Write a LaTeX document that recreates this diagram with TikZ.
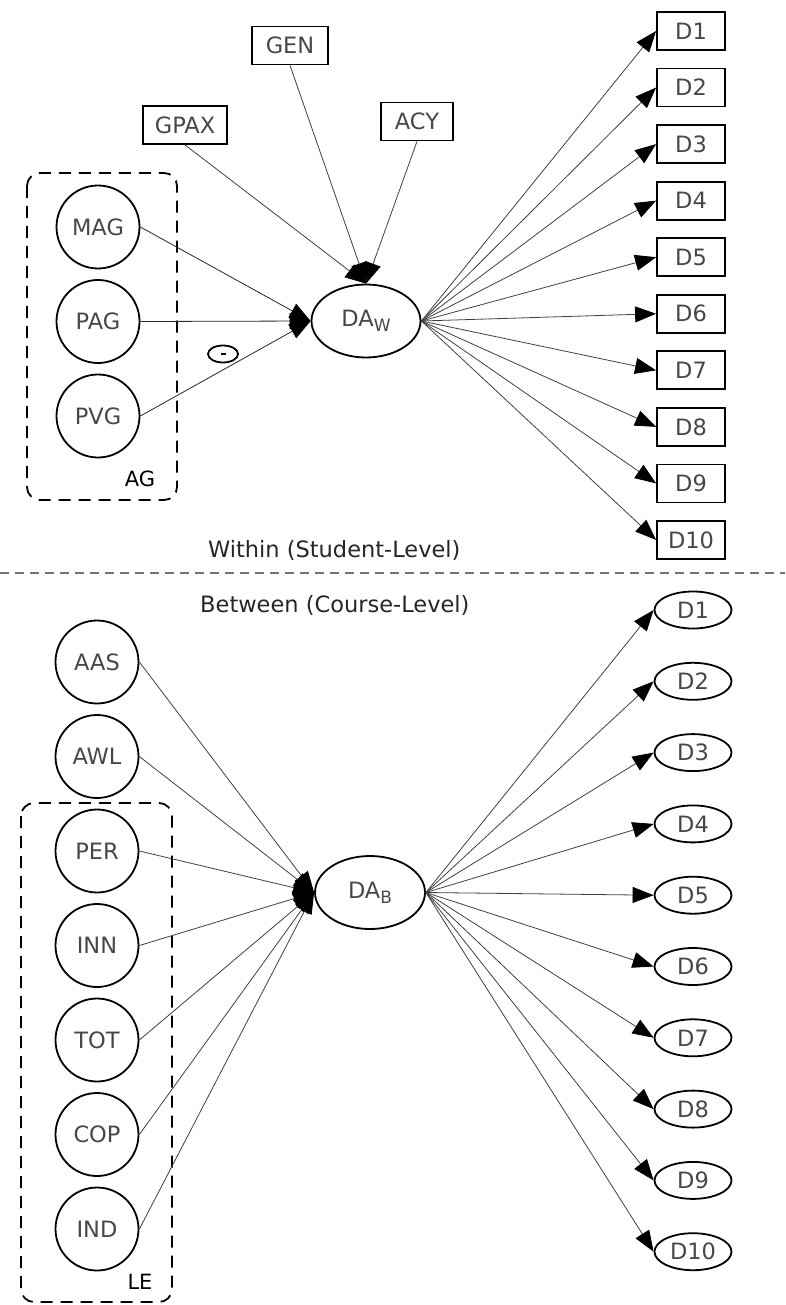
\documentclass[tikz,border=0pt]{standalone}
\usepackage{fontspec}
\setmainfont{DejaVu Sans}
\usetikzlibrary{arrows.meta,shapes.geometric}

\begin{document}
\begin{tikzpicture}[x=1pt,y=-1pt,
  lbl/.style={text=black!72,font=\fontsize{22.5}{22.5}\selectfont},
  latent/.style={lbl,circle,draw,line width=1.8pt,minimum size=83pt,inner sep=0pt},
  obsbox/.style={lbl,rectangle,draw,line width=1.8pt,minimum height=38pt,inner sep=0pt},
  indell/.style={lbl,ellipse,draw,line width=1.8pt,minimum width=77pt,minimum height=37pt,inner sep=0pt},
  factor/.style={lbl,ellipse,draw,line width=1.8pt,minimum width=110pt,minimum height=73pt,inner sep=0pt},
  group/.style={draw,line width=1.8pt,dash pattern=on 12pt off 8pt,rounded corners=13pt},
  grouplabel/.style={text=black,font=\fontsize{21}{21}\selectfont},
  levellabel/.style={text=black!85,font=\fontsize{22.5}{22.5}\selectfont},
  conn/.style={draw=black!75,line width=0.8pt,-{Triangle[color=black,length=21pt,width=16pt]}}
]
\useasboundingbox (0,0) rectangle (785,1305);

% ---------- within (student) level ----------
\node[obsbox,minimum width=76pt] (gen)  at (290,45.5) {GEN};
\node[obsbox,minimum width=84pt] (gpax) at (185,125)  {GPAX};
\node[obsbox,minimum width=72pt] (acy)  at (417,121.5) {ACY};

\draw[group] (27,173) rectangle (177,500);
\node[grouplabel] (ag) at (140,479) {AG};
\node[latent] (mag) at (98,227)   {MAG};
\node[latent] (pag) at (98,321.5) {PAG};
\node[latent] (pvg) at (98,416)   {PVG};

\node[factor,minimum width=109pt] (daw) at (366,321)
  {DA\raisebox{-5pt}{\fontsize{17}{17}\selectfont W}};

% negative-sign marker on the PVG path
\node[ellipse,draw,line width=1.8pt,minimum width=30pt,minimum height=17pt,inner sep=0pt]
  (neg) at (223,354) {};
\draw[line width=1.6pt] ([xshift=-2.5pt]neg.center) -- ([xshift=2.5pt]neg.center);

\foreach \s in {gpax,gen,acy}
  \draw[conn] (\s.south) -- (daw.north);
\foreach \s in {mag,pag,pvg}
  \draw[conn,draw=black!85] (\s.east) -- (daw.west);

\foreach \i in {1,...,10}{
  \node[obsbox,minimum width=68pt] (dw\i) at (691,{31+56.55*(\i-1)}) {D\i};
  \draw[conn] (daw.east) -- (dw\i.west);
}

% ---------- level divider ----------
\node[levellabel,anchor=east] (within) at (464,550) {Within (Student-Level)};
\coordinate (divl) at (0,573);
\coordinate (divr) at (785,573);
\draw[black!55,line width=1.3pt,dash pattern=on 9pt off 6pt] (divl) -- (divr);
\node[levellabel,anchor=east] (between) at (473,605) {Between (Course-Level)};

% ---------- between (course) level ----------
\node[latent] (aas) at (97,662)    {AAS};
\node[latent] (awl) at (97,756.5)  {AWL};
\draw[group] (21,803) rectangle (172,1302);
\node[grouplabel] (le) at (140,1282) {LE};
\node[latent] (per) at (97,851)    {PER};
\node[latent] (inn) at (97,945.5)  {INN};
\node[latent] (tot) at (97,1040)   {TOT};
\node[latent] (cop) at (97,1134.5) {COP};
\node[latent] (ind) at (97,1229)   {IND};

\node[factor] (dab) at (370,892.5)
  {DA\raisebox{-5pt}{\fontsize{17}{17}\selectfont B}};

\foreach \s in {aas,awl,per,inn,tot,cop,ind}
  \draw[conn] (\s.east) -- (dab.west);

\foreach \i in {1,...,10}{
  \node[indell] (db\i) at (693,{610+71.3*(\i-1)}) {D\i};
  \draw[conn] (dab.east) -- (db\i.west);
}
\end{tikzpicture}
\end{document}
